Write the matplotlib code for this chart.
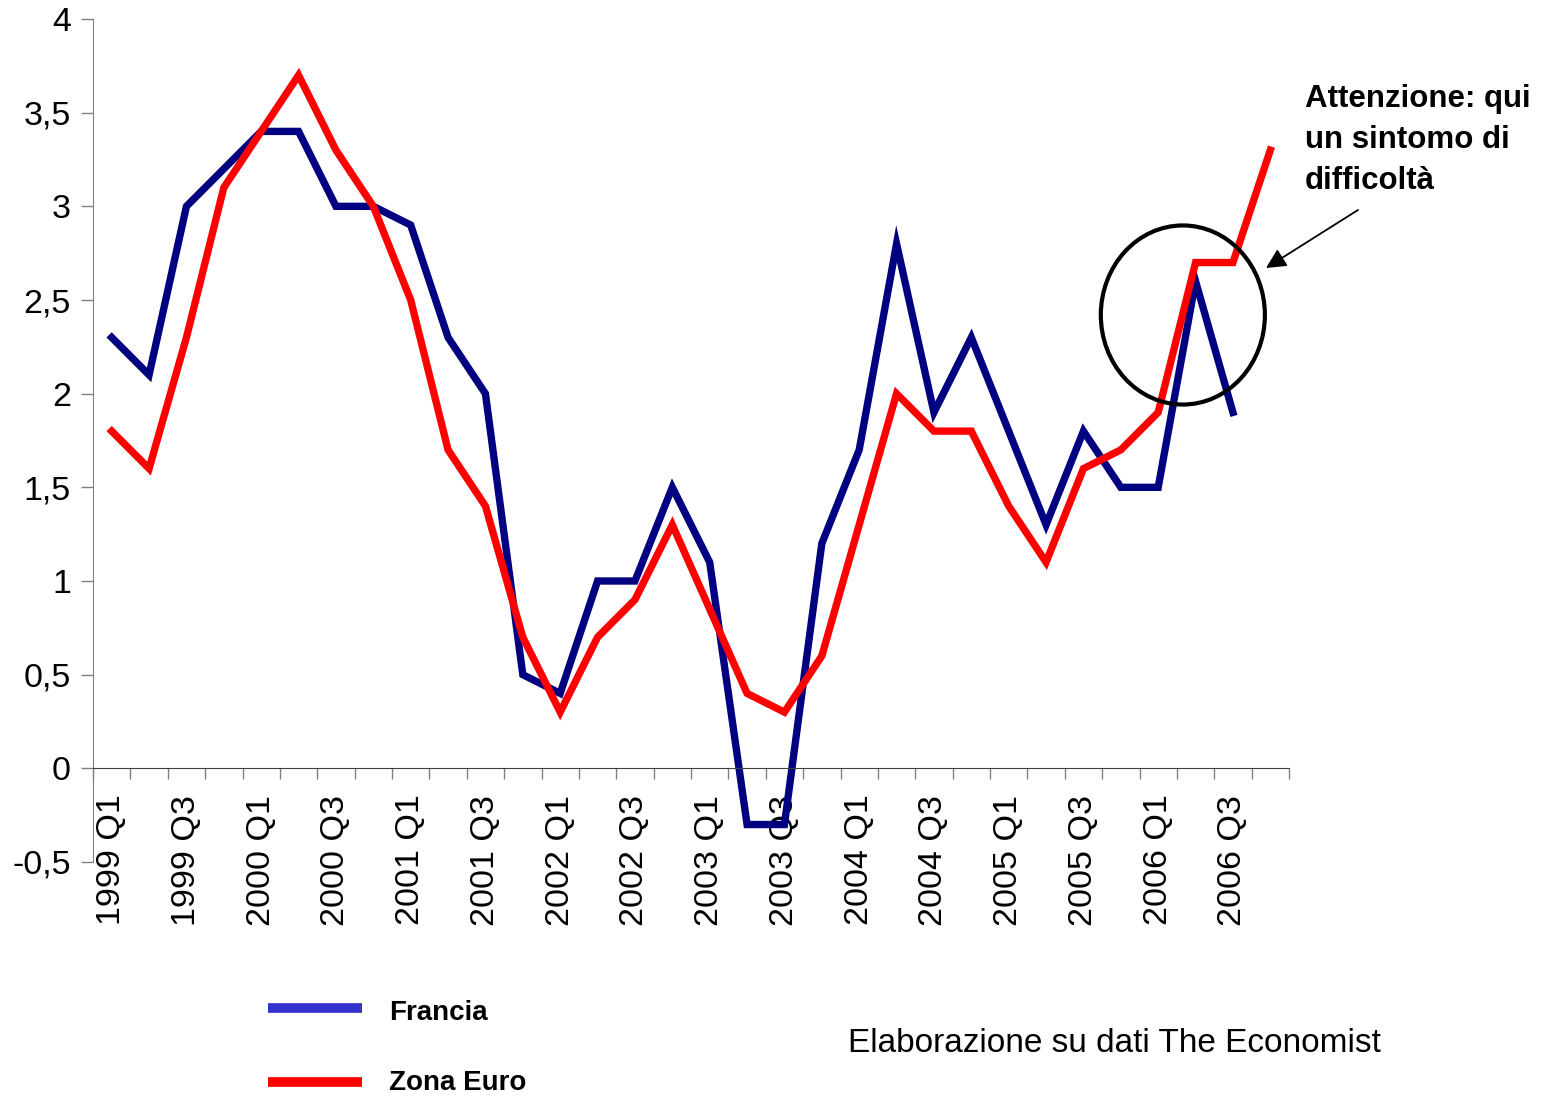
import matplotlib
matplotlib.use("Agg")
import matplotlib.pyplot as plt
from matplotlib.patches import Ellipse

# quarters 1999 Q1 .. 2006 Q4
years = [1999, 2000, 2001, 2002, 2003, 2004, 2005, 2006]
quarters = ["%d Q%d" % (y, q) for y in years for q in (1, 2, 3, 4)]

francia = [2.3, 2.1, 3.0, 3.2, 3.4, 3.4, 3.0, 3.0,
           2.9, 2.3, 2.0, 0.5, 0.4, 1.0, 1.0, 1.5,
           1.1, -0.3, -0.3, 1.2, 1.7, 2.8, 1.9, 2.3,
           1.8, 1.3, 1.8, 1.5, 1.5, 2.6, 1.9]
zona_euro = [1.8, 1.6, 2.3, 3.1, 3.4, 3.7, 3.3, 3.0,
             2.5, 1.7, 1.4, 0.7, 0.3, 0.7, 0.9, 1.3,
             0.85, 0.4, 0.3, 0.6, 1.3, 2.0, 1.8, 1.8,
             1.4, 1.1, 1.6, 1.7, 1.9, 2.7, 2.7, 3.3]

yticks = [-0.5, 0, 0.5, 1, 1.5, 2, 2.5, 3, 3.5, 4]

plt.rcParams['font.family'] = ['Liberation Sans', 'DejaVu Sans']

W, H = 1546, 1098
fig = plt.figure(figsize=(W / 100, H / 100), dpi=100)
ax = fig.add_axes([93 / W, (H - 862) / H, (1289 - 93) / W, (862 - 19) / H])

ax.plot(range(len(francia)), francia, color='#000080', lw=5.3, solid_joinstyle='miter')
ax.plot(range(len(zona_euro)), zona_euro, color='#FF0000', lw=5.3, solid_joinstyle='miter')

ax.set_xlim(-0.5, len(quarters) - 0.5)
ax.set_ylim(-0.5, 4)

# axes look
for s in ('top', 'right'):
    ax.spines[s].set_visible(False)
ax.spines['bottom'].set_position(('data', 0))
ax.spines['left'].set_color('#808080')
ax.spines['bottom'].set_color('#404040')

ax.set_yticks(yticks)
ax.set_yticklabels([("%g" % v).replace('.', ',') for v in yticks], fontsize=24.5)
ax.tick_params(axis='y', length=9, width=1, color='#808080', pad=7)

ax.set_xticks(range(0, len(quarters), 2))
ax.set_xticklabels(quarters[::2], rotation=90, fontsize=24.5)
ax.set_xticks([i - 0.5 for i in range(len(quarters) + 1)], minor=True)
ax.tick_params(axis='x', which='major', length=0, pad=19)
ax.tick_params(axis='x', which='minor', length=8, width=1, color='#808080')

# circle around 2006
ax.add_patch(Ellipse((28.66, 2.42), 4.39, 0.956, fill=False, ec='black', lw=3, zorder=5))

# annotation
fig.text(1305 / W, 1 - 84 / H, "Attenzione: qui\nun sintomo di\ndifficoltà",
         fontsize=22.5, fontweight='bold', va='top', ha='left', linespacing=1.47)
ax.annotate("", xy=(1266, H - 268), xycoords='figure pixels',
            xytext=(1358, H - 210), textcoords='figure pixels',
            arrowprops=dict(arrowstyle='-|>', color='black', lw=1.3,
                            mutation_scale=30, shrinkA=0, shrinkB=0))

# legend drawn by hand
fig.add_artist(plt.Line2D([268 / W, 362 / W], [1 - 1008 / H] * 2, color='#3333CC', lw=7,
                          solid_capstyle='butt'))
fig.add_artist(plt.Line2D([268 / W, 362 / W], [1 - 1082 / H] * 2, color='#FF0000', lw=7,
                          solid_capstyle='butt'))
fig.text(389 / W, 1 - 1013 / H, "Francia", fontsize=20, fontweight='bold',
         va='center', ha='left')
fig.text(389 / W, 1 - 1083 / H, "Zona Euro", fontsize=20, fontweight='bold',
         va='center', ha='left')

fig.text(848 / W, 1 - 1044 / H, "Elaborazione su dati The Economist", fontsize=24,
         va='center', ha='left')

fig.savefig("out.png", dpi=100, facecolor='white')
